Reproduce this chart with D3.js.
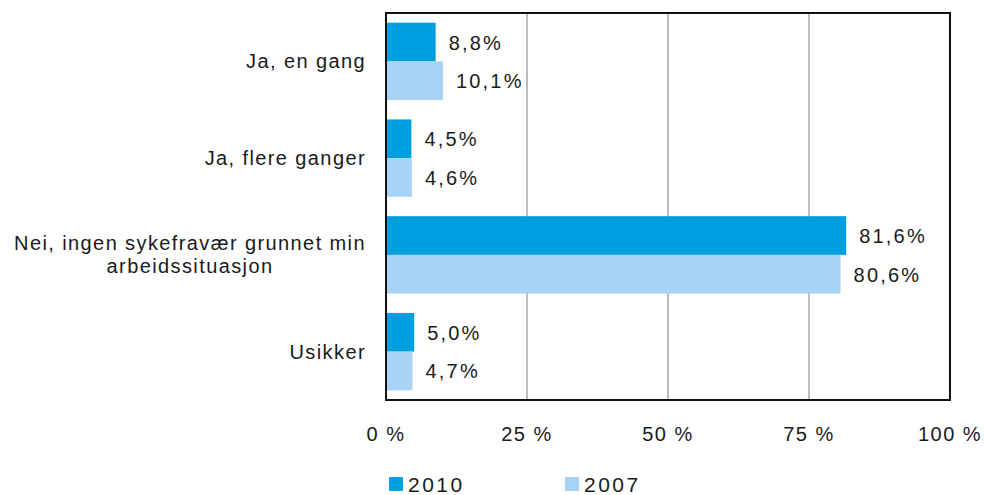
<!DOCTYPE html>
<html>
<head>
<meta charset="utf-8">
<script src="https://cdn.jsdelivr.net/npm/d3@7"></script>
<style>
  body { margin: 0; background: #fff; }
  svg text { font-family: "Liberation Sans", Arial, sans-serif; fill: #1a1a1a; }
</style>
</head>
<body>
<div id="chart"></div>
<script>
// categories top to bottom, label lines per category
let categories = ['Ja, en gang', 'Ja, flere ganger', 'Nei, ingen sykefravær grunnet min arbeidssituasjon', 'Usikker'];
let categoryLines = [['Ja, en gang'], ['Ja, flere ganger'], ['Nei, ingen sykefravær grunnet min', 'arbeidssituasjon'], ['Usikker']];
let seriesNames = ['2010', '2007'];
let values2010 = [8.8, 4.5, 81.6, 5.0];
let values2007 = [10.1, 4.6, 80.6, 4.7];
let tickValues = [0, 25, 50, 75, 100];
let colors = ['#009fe0', '#a8d3f4'];

let width = 984, height = 495;
let plot = {left: 386, right: 950, top: 13, bottom: 400};

let svg = d3.select('#chart')
.append('svg')
.attr('width', width)
.attr('height', height);

let x = d3.scaleLinear().domain([0, 100]).range([plot.left, plot.right]);
let y = d3.scaleBand().domain(categories).range([plot.top, plot.bottom])
.paddingInner(0.2).paddingOuter(0.1);
let ySub = d3.scaleBand().domain(seriesNames).range([0, y.bandwidth()]);

// gridlines
svg.append('g')
.selectAll('line')
.data(tickValues.slice(1, -1))
.enter()
.append('line')
.attr('x1', d => x(d)).attr('x2', d => x(d))
.attr('y1', plot.top).attr('y2', plot.bottom)
.attr('stroke', '#a6a6a6')
.attr('stroke-width', 1.5);

// bars
let rows = categories.map((c, i) => ({cat: c, vals: [values2010[i], values2007[i]]}));
let groups = svg.append('g')
.selectAll('g')
.data(rows)
.enter()
.append('g')
.attr('transform', d => 'translate(0,' + y(d.cat) + ')');

groups.selectAll('rect')
.data(d => d.vals.map((v, j) => ({v: v, s: seriesNames[j], j: j})))
.enter()
.append('rect')
.attr('x', x(0))
.attr('y', d => ySub(d.s))
.attr('width', d => x(d.v) - x(0))
.attr('height', ySub.bandwidth())
.attr('fill', d => colors[d.j]);

// value labels
groups.selectAll('text')
.data(d => d.vals.map((v, j) => ({v: v, s: seriesNames[j]})))
.enter()
.append('text')
.attr('x', d => x(d.v) + 13)
.attr('y', d => ySub(d.s) + ySub.bandwidth() / 2 + 7.5)
.style('font-size', '20px')
.style('letter-spacing', '2.2px')
.text(d => d3.format('.1f')(d.v).replace('.', ',') + '%');

// frame
svg.append('rect')
.attr('x', plot.left).attr('y', plot.top)
.attr('width', plot.right - plot.left)
.attr('height', plot.bottom - plot.top)
.attr('fill', 'none')
.attr('stroke', '#111')
.attr('stroke-width', 2);

// category labels
categoryLines.forEach(function(lines, i) {
  let cy = y(categories[i]) + y.bandwidth() / 2;
  let lineH = 23;
  let t = svg.append('text')
  .attr('text-anchor', 'middle')
  .style('font-size', '20px')
  .style('letter-spacing', '1.4px');
  lines.forEach(function(l, k) {
    t.append('tspan')
    .attr('y', cy + 7 - (lines.length - 1) * lineH / 2 + k * lineH)
    .text(l);
  });
  // right-align the block, centre the lines within it
  let w = d3.max(t.selectAll('tspan').nodes(), n => n.getComputedTextLength());
  t.selectAll('tspan').attr('x', 366 - w / 2);
});

// x tick labels
svg.append('g')
.selectAll('text')
.data(tickValues)
.enter()
.append('text')
.attr('x', d => x(d))
.attr('y', 441)
.attr('text-anchor', 'middle')
.style('font-size', '20px')
.style('letter-spacing', '1.5px')
.text(d => d + ' %');

// legend
let legend = svg.append('g')
.selectAll('g')
.data(seriesNames)
.enter()
.append('g')
.attr('transform', (d, i) => 'translate(' + (389 + i * 176) + ',477)');

legend.append('rect')
.attr('width', 14).attr('height', 14)
.attr('fill', (d, i) => colors[i]);

legend.append('text')
.attr('x', 19)
.attr('y', 15)
.style('font-size', '21px')
.style('letter-spacing', '2.5px')
.text(d => d);
</script>
</body>
</html>
